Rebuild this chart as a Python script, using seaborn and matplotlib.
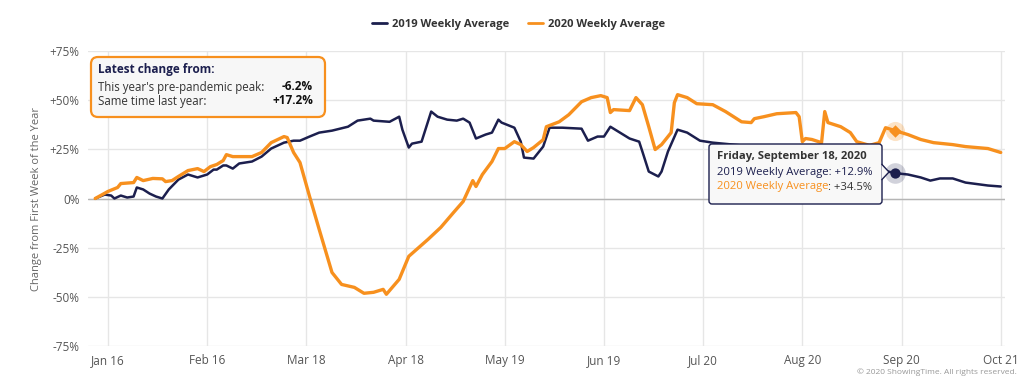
import matplotlib
matplotlib.use("Agg")
import matplotlib.pyplot as plt
from matplotlib.patches import FancyBboxPatch, Polygon
from matplotlib.lines import Line2D
import pandas as pd
import seaborn as sns

NAVY = "#1c1f4e"
ORANGE = "#f7901e"

# 2019 weekly average, change from first week of the year (%)
dates_2019 = ["01-12", "01-15", "01-17", "01-18", "01-20", "01-22", "01-24", "01-25", "01-27", "01-29",
              "01-31", "02-02", "02-04", "02-07", "02-10", "02-13", "02-16", "02-18", "02-19", "02-21",
              "02-22", "02-24", "02-26", "02-28", "03-01", "03-04", "03-07", "03-11", "03-14", "03-16",
              "03-19", "03-22", "03-26", "03-31", "04-03", "04-07", "04-08", "04-13", "04-16", "04-17",
              "04-19", "04-20", "04-23", "04-24", "04-26", "04-28", "05-01", "05-04", "05-06", "05-08",
              "05-10", "05-13", "05-15", "05-17", "05-18", "05-22", "05-24", "05-25", "05-28", "05-31",
              "06-02", "06-06", "06-12", "06-14", "06-17", "06-19", "06-21", "06-24", "06-27", "06-30",
              "07-01", "07-03", "07-06", "07-07", "07-09", "07-12", "07-15", "07-19", "07-23", "08-01",
              "08-13", "08-22", "09-04", "09-13", "09-18", "09-22", "09-26", "09-29", "10-02", "10-06",
              "10-10", "10-17", "10-21"]
values_2019 = [0, 2, 1.5, 0, 1.5, 0.5, 1, 5.6, 4.6, 2.5,
               1, 0, 4.6, 9.6, 12.2, 10.7, 12.2, 14.7, 14.7, 16.8,
               16.8, 15.2, 17.8, 18.3, 18.8, 21.3, 25.4, 28.4, 29.4, 29.4,
               31.5, 33.5, 34.5, 36.5, 39.6, 40.6, 39.6, 39.0, 41.6, 35.0,
               25.9, 27.9, 28.9, 34.0, 44.2, 41.6, 40.1, 39.6, 40.6, 38.6,
               30.5, 32.5, 33.5, 40.1, 38.6, 36.0, 28.9, 20.8, 20.3, 26.4,
               36.0, 36.0, 35.5, 29.4, 31.5, 31.5, 36.5, 33.5, 30.5, 28.9,
               23.9, 13.7, 11.2, 13.7, 23.9, 35.0, 33.5, 29.4, 28.4, 27.0,
               26.0, 23.0, 18.0, 14.7, 12.9, 12.2, 10.7, 9.1, 10.2, 10.2,
               8.1, 6.6, 6.1]

# 2020 weekly average, change from first week of the year (%)
dates_2020 = ["01-12", "01-16", "01-19", "01-20", "01-24", "01-25", "01-27", "01-30", "02-02", "02-03",
              "02-05", "02-07", "02-10", "02-13", "02-15", "02-17", "02-19", "02-21", "02-22", "02-24",
              "02-26", "03-01", "03-04", "03-07", "03-11", "03-12", "03-14", "03-16", "03-19", "03-22",
              "03-26", "03-29", "04-02", "04-05", "04-08", "04-11", "04-12", "04-16", "04-19", "04-25",
              "04-29", "05-03", "05-06", "05-09", "05-10", "05-12", "05-15", "05-17", "05-19", "05-22",
              "05-24", "05-26", "05-28", "05-31", "06-01", "06-05", "06-08", "06-12", "06-15", "06-18",
              "06-20", "06-21", "06-22", "06-27", "06-29", "07-01", "07-03", "07-05", "07-07", "07-10",
              "07-11", "07-12", "07-15", "07-18", "07-23", "07-27", "08-01", "08-04", "08-05", "08-08",
              "08-12", "08-18", "08-19", "08-20", "08-21", "08-23", "08-26", "08-27", "08-28", "09-01",
              "09-04", "09-06", "09-10", "09-13", "09-15", "09-18", "09-22", "09-26", "09-30", "10-06",
              "10-10", "10-17", "10-21"]
values_2020 = [0, 3.6, 5.6, 7.6, 8.1, 10.7, 9.1, 10.2, 10.0, 8.6,
               9.1, 11.2, 14.2, 15.2, 13.7, 16.2, 17.3, 19.3, 22.3, 21.3,
               21.3, 21.3, 23.4, 28.4, 31.5, 31.0, 23.4, 18.3, 1.0, -15.7,
               -37.6, -43.7, -45.2, -48.2, -47.7, -46.2, -48.7, -41.1, -29.4, -20.8,
               -14.7, -7.1, -1.5, 9.1, 6.1, 12.2, 18.8, 25.4, 25.4, 28.9,
               27.4, 23.9, 25.9, 29.9, 36.5, 39.0, 42.6, 49.2, 51.3, 52.3,
               51.3, 43.7, 45.2, 44.7, 51.3, 47.7, 36.5, 24.9, 27.4, 33.5,
               48.7, 52.8, 51.3, 48.2, 47.7, 44.2, 39.0, 38.6, 40.6, 41.6,
               43.1, 43.7, 41.6, 28.9, 30.5, 30.0, 28.4, 44.2, 38.6, 36.5,
               33.5, 28.9, 27.0, 28.4, 36.0, 34.5, 32.5, 30.0, 28.4, 27.4,
               26.4, 25.4, 23.4]

tick_dates = ["2020-01-16", "2020-02-16", "2020-03-18", "2020-04-18", "2020-05-19",
              "2020-06-19", "2020-07-20", "2020-08-20", "2020-09-20", "2020-10-21"]
tick_labels = ["Jan 16", "Feb 16", "Mar 18", "Apr 18", "May 19",
               "Jun 19", "Jul 20", "Aug 20", "Sep 20", "Oct 21"]
y_ticks = [-75, -50, -25, 0, 25, 50, 75]
y_labels = ["-75%", "-50%", "-25%", "0%", "+25%", "+50%", "+75%"]

hover_date = "2020-09-18"
hover_title = "Friday, September 18, 2020"
hover_2019 = 12.9
hover_2020 = 34.5
peak_change = "-6.2%"
last_year_change = "+17.2%"

df = pd.concat([
    pd.DataFrame({"date": pd.to_datetime(["2020-" + d for d in dates_2019]),
                  "value": values_2019, "series": "2019 Weekly Average"}),
    pd.DataFrame({"date": pd.to_datetime(["2020-" + d for d in dates_2020]),
                  "value": values_2020, "series": "2020 Weekly Average"}),
])

sns.set_style("white")
plt.rcParams["font.family"] = ["Open Sans", "DejaVu Sans"]

fig = plt.figure(figsize=(10.24, 3.84), dpi=100)
ax = fig.add_axes([88 / 1024, 1 - 346 / 384, 917 / 1024, 295 / 384])

sns.lineplot(data=df[df.series == "2019 Weekly Average"], x="date", y="value",
             color=NAVY, linewidth=1.8, ax=ax, zorder=3)
sns.lineplot(data=df[df.series == "2020 Weekly Average"], x="date", y="value",
             color=ORANGE, linewidth=2.4, ax=ax, zorder=4)

# hover markers
hd = pd.Timestamp(hover_date)
ax.scatter([hd], [hover_2020], s=190, color=ORANGE, alpha=0.25, lw=0, zorder=5)
ax.scatter([hd], [hover_2020], s=40, marker="D", color=ORANGE, lw=0, zorder=6)
ax.scatter([hd], [hover_2019], s=220, color=NAVY, alpha=0.2, lw=0, zorder=5)
ax.scatter([hd], [hover_2019], s=55, color=NAVY, lw=0, zorder=6)

ax.set_xlim(pd.Timestamp("2020-01-09 18:00"), pd.Timestamp("2020-10-22 08:00"))
ax.set_ylim(-75, 75)
ax.set_xticks(pd.to_datetime(tick_dates))
ax.set_xticklabels(tick_labels)
ax.set_yticks(y_ticks)
ax.set_yticklabels(y_labels)
ax.set_xlabel("")
ax.set_ylabel("")
ax.tick_params(axis="x", length=0, pad=6, labelsize=8.5, labelcolor="#555555")
ax.tick_params(axis="y", length=0, pad=6, labelsize=8.5, labelcolor="#555555")
ax.grid(True, color="#e6e6e6", linewidth=1)
ax.axhline(0, color="#b5b5b5", linewidth=1, zorder=2)
for s in ax.spines.values():
    s.set_visible(False)

fig.text(37 / 1024, 0.483, "Change from First Week of the Year", rotation=90,
         ha="center", va="center", fontsize=8, color="#666666")

# legend
handles = [Line2D([], [], color=NAVY, lw=2), Line2D([], [], color=ORANGE, lw=2)]
fig.legend(handles, ["2019 Weekly Average", "2020 Weekly Average"], loc="center",
           bbox_to_anchor=(0.506, 1 - 24 / 384), ncol=2, frameon=False,
           handlelength=1.35, columnspacing=1.7, handletextpad=0.45,
           prop={"weight": "bold", "size": 8}, labelcolor="#333333")

# info box (coordinates in inches)
tr = fig.dpi_scale_trans
fig.add_artist(FancyBboxPatch((0.91, 2.67), 2.34, 0.60, boxstyle="round,pad=0,rounding_size=0.07",
                              transform=tr, facecolor="#f7f7f7", edgecolor=ORANGE, lw=1.6, zorder=10))
fig.text(0.98, 3.14, "Latest change from:", transform=tr, fontsize=8.5, weight="bold",
         color=NAVY, va="center", zorder=11)
fig.text(0.98, 2.97, "This year's pre-pandemic peak:", transform=tr, fontsize=8.3,
         color="#333333", va="center", zorder=11)
fig.text(3.13, 2.97, peak_change, transform=tr, fontsize=8.5, weight="bold",
         color="#111111", va="center", ha="right", zorder=11)
fig.text(0.98, 2.83, "Same time last year:", transform=tr, fontsize=8.3,
         color="#333333", va="center", zorder=11)
fig.text(3.13, 2.83, last_year_change, transform=tr, fontsize=8.5, weight="bold",
         color="#111111", va="center", ha="right", zorder=11)

# tooltip
fig.add_artist(FancyBboxPatch((7.09, 1.80), 1.73, 0.60, boxstyle="round,pad=0,rounding_size=0.03",
                              transform=tr, facecolor="#f8f8f8", edgecolor=NAVY, lw=1, zorder=10))
fig.add_artist(Polygon([(8.815, 2.20), (8.89, 2.12), (8.815, 2.04)], closed=False, transform=tr,
                       facecolor="#f8f8f8", edgecolor=NAVY, lw=1, zorder=11))
fig.text(7.17, 2.27, hover_title, transform=tr, fontsize=8.1, weight="bold",
         color="#333333", va="center", zorder=12)
fig.text(7.17, 2.12, f"2019 Weekly Average: +{hover_2019}%", transform=tr, fontsize=8.1,
         color=NAVY, va="center", zorder=12)
t20 = fig.text(7.17, 1.97, "2020 Weekly Average", transform=tr, fontsize=8.1,
               color=ORANGE, va="center", zorder=12)
fig.add_artist(plt.annotate(f": +{hover_2020}%", xy=(1, 0), xycoords=t20, va="bottom",
                            fontsize=8.1, color="#333333", annotation_clip=False, zorder=12))

fig.text(0.993, 0.03, "© 2020 ShowingTime. All rights reserved.", ha="right", va="center",
         fontsize=6, color="#999999")

fig.savefig("out.png", dpi=100)
